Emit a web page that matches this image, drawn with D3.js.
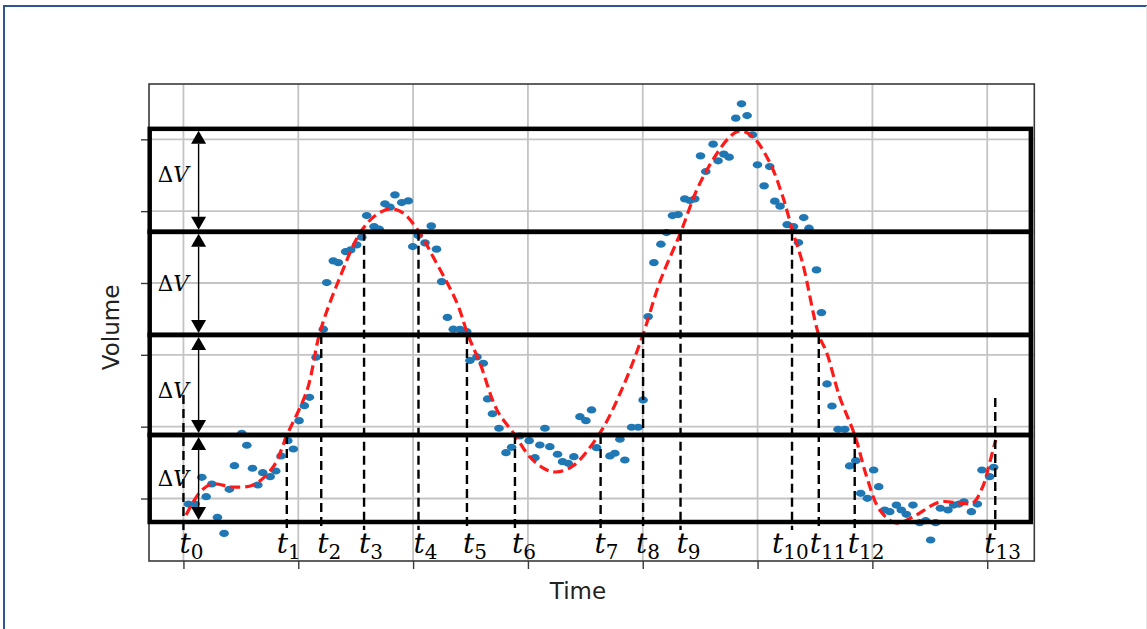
<!DOCTYPE html>
<html>
<head>
<meta charset="utf-8">
<script src="https://cdn.jsdelivr.net/npm/d3@7"></script>
<style>
  html, body { margin: 0; padding: 0; background: #fff; }
  svg { display: block; }
</style>
</head>
<body>
<svg id="chart" width="1147" height="629"></svg>
<script>
// Grid ticks (unlabelled)
const timeTicks = [0, 1, 2, 3, 4, 5, 6, 7];
const volumeTicks = [0, 1, 2, 3, 4, 5];

// Measured samples
const sampleTime = [
  0.044, 0.102, 0.160, 0.247, 0.198, 0.296, 0.354, 0.400, 0.444, 0.508,
  0.552, 0.601, 0.648, 0.691, 0.755, 0.804, 0.850, 0.909, 0.957, 1.007,
  1.053, 1.097, 1.155, 1.218, 1.248, 1.305, 1.349, 1.413, 1.457, 1.509,
  1.553, 1.596, 1.660, 1.706, 1.755, 1.799, 1.842, 1.901, 1.958, 1.997,
  2.045, 2.104, 2.158, 2.204, 2.249, 2.299, 2.350, 2.408, 2.467, 2.495,
  2.556, 2.611, 2.649, 2.691, 2.748, 2.809, 2.858, 2.930, 3.011, 3.061,
  3.104, 3.148, 3.191, 3.258, 3.302, 3.351, 3.400, 3.453, 3.505, 3.554,
  3.598, 3.714, 3.757, 3.801, 3.844, 3.903, 3.960, 4.003, 4.047, 4.097,
  4.158, 4.207, 4.259, 4.308, 4.366, 4.410, 4.453, 4.503, 4.549, 4.613,
  4.656, 4.706, 4.752, 4.810, 4.860, 4.909, 4.956, 4.999, 5.106, 5.057,
  5.150, 5.196, 5.258, 5.313, 5.356, 5.402, 5.448, 5.513, 5.556, 5.605,
  5.648, 5.701, 5.759, 5.802, 5.855, 5.898, 5.956, 6.011, 6.055, 6.107,
  6.151, 6.209, 6.252, 6.296, 6.353, 6.412, 6.464, 6.551, 6.507, 6.592,
  6.658, 6.708, 6.754, 6.797, 6.862, 6.914, 6.954, 7.021, 7.056
];
const sampleVolume = [
  -0.077, -0.077, 0.295, 0.202, 0.025, -0.262, -0.485, 0.128, 0.457, 0.908,
  0.741, 0.421, 0.188, 0.359, 0.304, 0.383, 0.592, 0.805, 0.689, 1.084,
  1.292, 1.409, 1.967, 2.357, 3.006, 3.308, 3.284, 3.437, 3.461, 3.531,
  3.638, 3.939, 3.786, 3.749, 4.102, 4.056, 4.227, 4.120, 4.143, 3.507,
  3.660, 3.559, 3.795, 3.471, 3.019, 2.521, 2.357, 2.354, 2.323, 1.922,
  1.971, 1.883, 1.386, 1.180, 0.978, 0.638, 0.713, 0.870, 0.805, 0.568,
  0.745, 0.978, 0.721, 0.616, 0.513, 0.490, 0.582, 1.139, 1.084, 1.233,
  0.708, 0.592, 0.630, 0.825, 0.536, 0.992, 0.992, 1.372, 2.532, 3.284,
  3.540, 3.702, 3.939, 3.953, 4.171, 4.148, 4.171, 4.770, 4.552, 4.933,
  4.701, 4.794, 4.752, 5.295, 5.494, 5.331, 5.063, 4.645, 4.621, 4.352,
  4.139, 4.070, 3.813, 3.786, 3.563, 3.911, 3.763, 3.182, 2.588, 1.595,
  1.288, 0.964, 0.964, 0.453, 0.526, 0.072, 0.003, 0.397, 0.164, -0.160,
  -0.184, -0.091, -0.160, -0.220, -0.091, -0.337, -0.309, -0.337, -0.578, -0.136,
  -0.160, -0.091, -0.077, -0.045, -0.184, -0.077, 0.397, 0.304, 0.435
];

// Smoothed fit through the samples
const fitTime = [
  0.023, 0.145, 0.250, 0.433, 0.607, 0.781, 0.902, 1.077, 1.190, 1.364,
  1.538, 1.669, 1.800, 1.912, 2.052, 2.174, 2.382, 2.478, 2.582, 2.730,
  2.887, 3.017, 3.148, 3.243, 3.391, 3.627, 3.827, 4.001, 4.149, 4.332,
  4.471, 4.611, 4.759, 4.846, 4.959, 5.107, 5.220, 5.307, 5.394, 5.533,
  5.600, 5.715, 5.846, 5.951, 6.064, 6.203, 6.351, 6.586, 6.760, 6.873,
  6.960, 7.021, 7.073
];
const fitVolume = [
  -0.230, 0.091, 0.202, 0.160, 0.188, 0.439, 0.884, 1.511, 2.320, 3.085,
  3.698, 3.935, 4.032, 3.976, 3.712, 3.364, 2.723, 2.277, 1.887, 1.233,
  0.884, 0.578, 0.411, 0.369, 0.453, 0.912, 1.553, 2.277, 3.015, 3.712,
  4.297, 4.715, 5.035, 5.118, 5.035, 4.673, 4.199, 3.712, 3.266, 2.277,
  2.040, 1.414, 0.884, 0.299, -0.160, -0.341, -0.258, -0.049, -0.063, -0.063,
  0.160, 0.494, 0.815
];

// Volume levels separated by ΔV, and the time span of the bands
const levels = [5.146, 3.712, 2.277, 0.884, -0.327];
const bandSpan = [-0.294, 7.380];
const arrowTime = 0.132;

// Crossing instants t0 … t13 and where each marker starts
const crossTimes = [0, 0.900, 1.200, 1.573, 2.047, 2.469, 2.887, 3.633, 4.003, 4.329, 5.300, 5.533, 5.846, 7.070];
const crossTops = [1.441, 0.884, 2.277, 3.712, 3.712, 2.277, 0.884, 0.884, 2.277, 3.712, 3.712, 2.277, 0.884, 1.400];
const crossBottom = -0.439;
const crossNames = ["0", "1", "2", "3", "4", "5", "6", "7", "8", "9", "10", "11", "12", "13"];

const svg = d3.select("#chart");
const W = 1147, H = 629;

// outer frame
svg.append("path")
  .attr("d", `M4,${H} L4,6 L${W},6`)
  .attr("fill", "none").attr("stroke", "#2f5597").attr("stroke-width", 2);
svg.append("line")
  .attr("x1", W - 0.5).attr("x2", W - 0.5).attr("y1", 6).attr("y2", H)
  .attr("stroke", "#e4e4e4").attr("stroke-width", 1);

const x = d3.scaleLinear().domain([-0.3, 7.41]).range([149, 1034.3]);
const y = d3.scaleLinear().domain([-0.87, 5.77]).range([561, 84]);

// grid
const grid = svg.append("g");
grid.selectAll("line.gx").data(timeTicks).join("line")
  .attr("x1", d => x(d)).attr("x2", d => x(d))
  .attr("y1", y.range()[0]).attr("y2", y.range()[1])
  .attr("stroke", "#c4c4c4").attr("stroke-width", 1.8);
grid.selectAll("line.gy").data(volumeTicks).join("line")
  .attr("y1", d => y(d)).attr("y2", d => y(d))
  .attr("x1", x.range()[0]).attr("x2", x.range()[1])
  .attr("stroke", "#c4c4c4").attr("stroke-width", 1.8);

// axes with blank tick labels
const xAxis = svg.append("g").attr("transform", `translate(0,${y.range()[0]})`)
  .call(d3.axisBottom(x).tickValues(timeTicks).tickFormat("").tickSize(8).tickSizeOuter(0));
const yAxis = svg.append("g").attr("transform", `translate(${x.range()[0]},0)`)
  .call(d3.axisLeft(y).tickValues(volumeTicks).tickFormat("").tickSize(8).tickSizeOuter(0));
[xAxis, yAxis].forEach(a => {
  a.select(".domain").remove();
  a.selectAll(".tick line").attr("stroke", "#3a3a3a").attr("stroke-width", 1.4);
});

// spines
svg.append("rect")
  .attr("x", x.range()[0]).attr("y", y.range()[1])
  .attr("width", x.range()[1] - x.range()[0]).attr("height", y.range()[0] - y.range()[1])
  .attr("fill", "none").attr("stroke", "#3a3a3a").attr("stroke-width", 1.6);

// samples
const samples = sampleTime.map((t, i) => ({ t, v: sampleVolume[i] }));
svg.append("g").selectAll("ellipse").data(samples).join("ellipse")
  .attr("cx", d => x(d.t)).attr("cy", d => y(d.v))
  .attr("rx", 4.8).attr("ry", 3.6)
  .attr("fill", "#1f77b4");

// fit curve
const fit = fitTime.map((t, i) => ({ t, v: fitVolume[i] }));
svg.append("path").datum(fit)
  .attr("d", d3.line().x(d => x(d.t)).y(d => y(d.v)).curve(d3.curveCatmullRom.alpha(0.5)))
  .attr("fill", "none").attr("stroke", "#ff1a1a").attr("stroke-width", 3.2)
  .attr("stroke-dasharray", "10,5");

// ΔV bands
const bands = d3.pairs(levels);
svg.append("g").selectAll("rect").data(bands).join("rect")
  .attr("x", x(bandSpan[0])).attr("width", x(bandSpan[1]) - x(bandSpan[0]))
  .attr("y", d => y(d[0])).attr("height", d => y(d[1]) - y(d[0]))
  .attr("fill", "none").attr("stroke", "#000").attr("stroke-width", 4.5);

// crossing markers
svg.append("g").selectAll("line").data(crossTimes).join("line")
  .attr("x1", d => x(d)).attr("x2", d => x(d))
  .attr("y1", (d, i) => y(crossTops[i])).attr("y2", y(crossBottom))
  .attr("stroke", "#000").attr("stroke-width", 2.4).attr("stroke-dasharray", "9,5");

// double-headed ΔV arrows
const ax = x(arrowTime);
const headW = 7.5, headH = 13;
const arrows = svg.append("g");
bands.forEach(([hi, lo]) => {
  const top = y(hi) + 2, bot = y(lo) - 2;
  arrows.append("line").attr("x1", ax).attr("x2", ax).attr("y1", top + headH).attr("y2", bot - headH)
    .attr("stroke", "#000").attr("stroke-width", 1.4);
  arrows.append("path").attr("d", `M${ax},${top} L${ax - headW},${top + headH} L${ax + headW},${top + headH} Z`).attr("fill", "#000");
  arrows.append("path").attr("d", `M${ax},${bot} L${ax - headW},${bot - headH} L${ax + headW},${bot - headH} Z`).attr("fill", "#000");
});

// ΔV labels
const dvLift = [6, 0, -5, 0];
svg.append("g").selectAll("text").data(bands).join("text")
  .attr("x", x(bandSpan[0]) + 8)
  .attr("y", (d, i) => (y(d[0]) + y(d[1])) / 2 + 8 - dvLift[i])
  .attr("font-family", "DejaVu Serif").attr("font-size", 21.5)
  .each(function () {
    const t = d3.select(this);
    t.append("tspan").text("Δ");
    t.append("tspan").attr("font-style", "italic").text("V");
  });

// t labels
const nudge = [-4, -10, -4, -5, -5, -4, -3, -6, -7, -4, -20, -9, -7, -11];
svg.append("g").selectAll("text").data(crossTimes).join("text")
  .attr("x", (d, i) => x(d) + nudge[i])
  .attr("y", 553)
  .attr("font-family", "DejaVu Serif").attr("font-size", 28)
  .each(function (d, i) {
    const t = d3.select(this);
    t.append("tspan").attr("font-style", "italic").text("t");
    t.append("tspan").attr("font-size", 20).attr("dy", 6).text(crossNames[i]);
  });

// axis titles
svg.append("text")
  .attr("x", 578).attr("y", 599).attr("text-anchor", "middle")
  .attr("font-family", "DejaVu Sans").attr("font-size", 23).attr("fill", "#222")
  .text("Time");
svg.append("text")
  .attr("transform", "translate(118.5,327.5) rotate(-90)").attr("text-anchor", "middle")
  .attr("font-family", "DejaVu Sans").attr("font-size", 23).attr("fill", "#222")
  .text("Volume");
</script>
</body>
</html>
